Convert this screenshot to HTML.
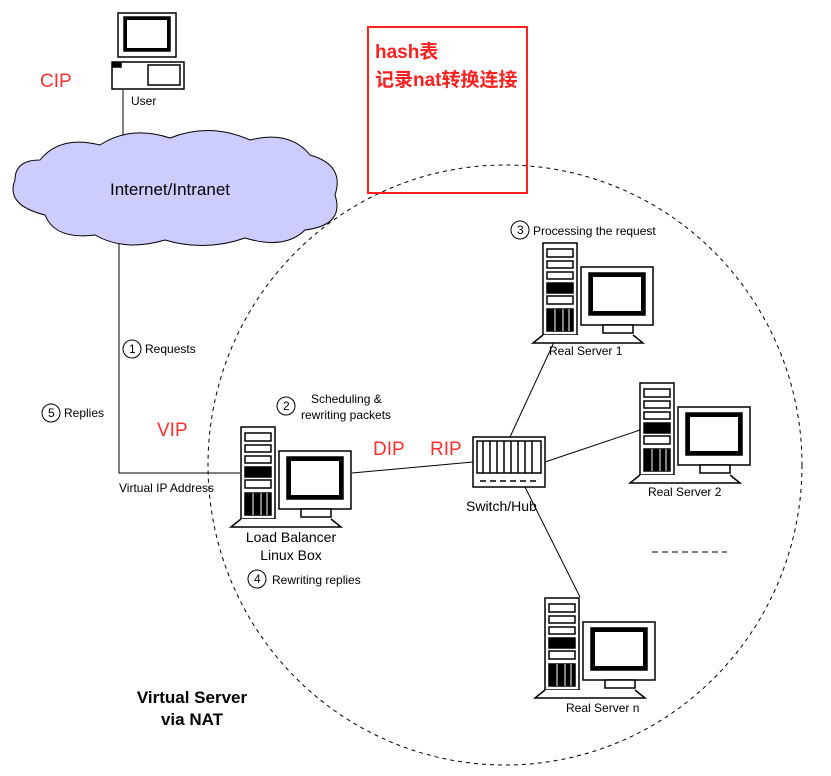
<!DOCTYPE html>
<html><head><meta charset="utf-8"><style>
body{margin:0;background:#fff}
svg text{font-family:"Liberation Sans","Noto Sans CJK SC",sans-serif}
</style></head><body>
<svg width="831" height="771" viewBox="0 0 831 771" xmlns="http://www.w3.org/2000/svg">
<defs>
<g id="srv" stroke="#000" fill="#fff" stroke-width="1.5">
  <rect x="0" y="0" width="34" height="92"/>
  <rect x="4" y="6" width="26" height="8"/>
  <rect x="4" y="18" width="26" height="7"/>
  <rect x="4" y="29" width="26" height="7"/>
  <rect x="4" y="40" width="26" height="10" fill="#000"/>
  <rect x="4" y="53" width="26" height="8"/>
  <rect x="4" y="66" width="26" height="22" fill="#000"/>
  <path d="M12 66v22M20 66v22M26 66v22" stroke="#fff" stroke-width="1"/>
  <path d="M0 92l-10 8h110l-10-8"/>
  <rect x="38" y="24" width="72" height="58"/>
  <rect x="46" y="30" width="56" height="42" fill="#000"/>
  <rect x="50" y="34" width="48" height="34" fill="#fff" stroke="none"/>
  <rect x="60" y="82" width="30" height="8"/>
</g>
</defs>
<ellipse cx="505" cy="465" rx="297" ry="300" fill="none" stroke="#000" stroke-dasharray="4,4"/>
<g stroke="#000" stroke-width="1" fill="none">
<path d="M123 90V140"/>
<path d="M119 240V473H240"/>
<path d="M352 473L473 462"/>
<path d="M510 437L555 340"/>
<path d="M545 462L640 430"/>
<path d="M525 487L580 597"/>
<path d="M652 552H727" stroke-dasharray="6,4"/>
</g>
<path d="M40 160 Q60 135 100 145 Q130 125 170 138 Q210 122 250 140 Q290 130 310 155 Q345 165 335 195 Q345 225 305 230 Q285 250 245 238 Q205 252 165 240 Q125 252 95 235 Q55 240 45 215 Q5 205 15 180 Q15 160 40 160Z" fill="#ccccff" stroke="#000"/>
<text x="170" y="195" font-size="17" text-anchor="middle">Internet/Intranet</text>
<g stroke="#000" fill="#fff" stroke-width="1.5">
<rect x="118" y="13" width="58" height="44"/>
<rect x="124" y="17" width="46" height="34" fill="#000"/>
<rect x="127" y="20" width="40" height="28" fill="#fff" stroke="none"/>
<rect x="112" y="62" width="72" height="27"/>
<rect x="148" y="65" width="32" height="20"/>
<rect x="113" y="63" width="8" height="4" fill="#000"/>
</g>
<text x="131" y="105" font-size="12">User</text>
<text x="40" y="87" font-size="19" fill="#ff3030">CIP</text>
<rect x="368" y="27" width="159" height="166" fill="none" stroke="#ff2020" stroke-width="2"/>
<text x="375" y="58" font-size="19" fill="#ff2020" font-weight="bold">hash表</text>
<text x="375" y="86" font-size="19" fill="#ff2020" font-weight="bold">记录nat转换连接</text>
<use href="#srv" x="241" y="427"/>
<use href="#srv" x="543" y="243"/>
<use href="#srv" x="640" y="383"/>
<use href="#srv" x="545" y="598"/>
<g stroke="#000" fill="#fff" stroke-width="1.5">
<rect x="473" y="437" width="72" height="50"/>
<rect x="477" y="441" width="64" height="32"/>
<path d="M483 441v32M490 441v32M497 441v32M504 441v32M511 441v32M518 441v32M525 441v32M532 441v32"/>
<path d="M480 481h60" stroke-dasharray="6,4"/>
</g>
<g font-size="12">
<circle cx="132" cy="349" r="9" fill="#fff" stroke="#000"/><text x="129" y="353">1</text>
<text x="145" y="353">Requests</text>
<circle cx="51" cy="413" r="9" fill="#fff" stroke="#000"/><text x="48" y="417">5</text>
<text x="64" y="417">Replies</text>
<circle cx="286" cy="406" r="9" fill="#fff" stroke="#000"/><text x="283" y="410">2</text>
<text x="311" y="403">Scheduling &amp;</text>
<text x="301" y="419">rewriting packets</text>
<circle cx="520" cy="230" r="9" fill="#fff" stroke="#000"/><text x="517" y="234">3</text>
<text x="533" y="235">Processing the request</text>
<circle cx="257" cy="579" r="9" fill="#fff" stroke="#000"/><text x="254" y="583">4</text>
<text x="272" y="584">Rewriting replies</text>
<text x="119" y="492">Virtual IP Address</text>
<text x="549" y="355">Real Server 1</text>
<text x="648" y="496">Real Server 2</text>
<text x="566" y="712">Real Server n</text>
</g>
<text x="291" y="542" font-size="14" text-anchor="middle">Load Balancer</text>
<text x="291" y="560" font-size="14" text-anchor="middle">Linux Box</text>
<text x="466" y="511" font-size="14">Switch/Hub</text>
<text x="192" y="703" font-size="17" font-weight="bold" text-anchor="middle">Virtual Server</text>
<text x="192" y="725" font-size="17" font-weight="bold" text-anchor="middle">via NAT</text>
<g font-size="19" fill="#ff3030">
<text x="157" y="436">VIP</text>
<text x="373" y="455">DIP</text>
<text x="430" y="455">RIP</text>
</g>
</svg>
</body></html>
